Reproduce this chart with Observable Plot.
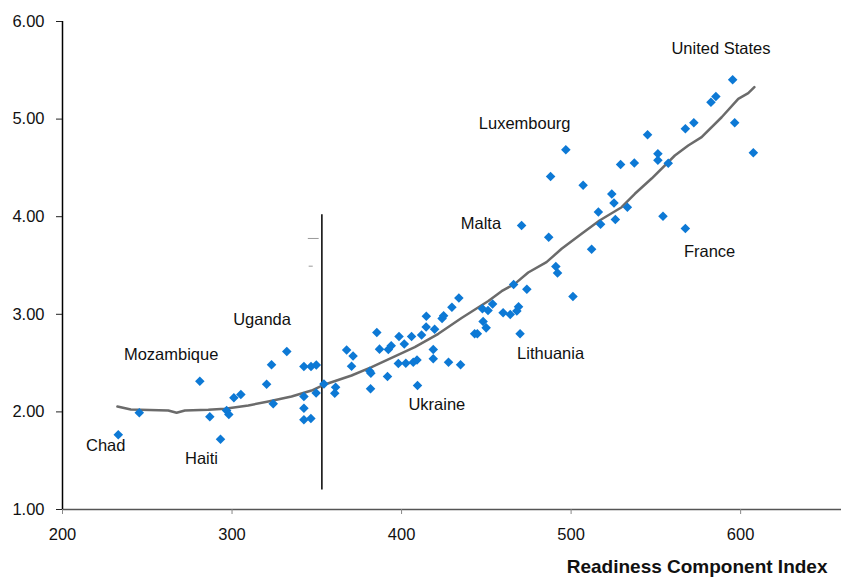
<!DOCTYPE html>
<html>
<head>
<meta charset="utf-8">
<script src="https://cdn.jsdelivr.net/npm/d3@7"></script>
<script src="https://cdn.jsdelivr.net/npm/@observablehq/plot@0.6"></script>
<style>
  html, body { margin: 0; padding: 0; background: #fff; }
  #chart { width: 841px; height: 583px; overflow: hidden; }
</style>
</head>
<body>
<div id="chart"></div>
<script>
// Scatter points: Readiness Component Index (x) vs score (y)
const ptX = [232.9,245.3,281.0,286.9,293.2,296.8,298.1,301.1,305.2,320.4,323.3,324.3,332.3,342.4,346.6,349.7,342.4,342.4,342.4,346.5,349.6,354.2,360.6,361.1,367.6,371.4,370.5,381.3,381.9,381.7,385.4,387.0,391.7,392.2,393.9,398.5,401.6,405.9,398.1,402.5,406.9,409.1,409.4,411.8,414.6,414.5,419.5,418.7,418.7,423.9,424.8,427.7,429.7,433.8,434.8,443.1,444.7,447.7,448.1,449.9,451.0,453.7,459.9,464.1,466.1,468.0,469.0,469.9,473.9,470.8,486.8,491.0,492.0,496.9,487.9,507.1,512.1,501.1,516.1,517.4,524.0,525.3,526.1,533.2,529.2,537.3,545.1,551.2,551.2,557.3,554.2,567.4,567.4,572.4,582.5,585.4,595.3,596.5,607.5];
const ptY = [1.765,1.991,2.315,1.950,1.720,2.014,1.973,2.144,2.178,2.284,2.483,2.083,2.619,2.465,2.465,2.481,2.158,2.038,1.919,1.932,2.194,2.286,2.192,2.253,2.634,2.572,2.468,2.417,2.397,2.237,2.814,2.643,2.363,2.639,2.678,2.773,2.695,2.773,2.496,2.499,2.509,2.531,2.270,2.787,2.981,2.870,2.846,2.639,2.544,2.957,2.985,2.509,3.073,3.167,2.483,2.800,2.800,3.056,2.926,2.861,3.039,3.106,3.015,2.998,3.305,3.034,3.077,2.800,3.256,3.910,3.790,3.490,3.423,4.686,4.412,4.322,3.667,3.182,4.048,3.923,4.233,4.140,3.971,4.096,4.535,4.550,4.840,4.645,4.579,4.548,4.004,3.879,4.901,4.962,5.173,5.232,5.403,4.962,4.655];

// Smoothed trend line
const trendX = [232.4,240.3,262.4,267.3,272.2,286.0,295.8,309.6,321.4,335.1,346.9,354.7,370.5,382.3,407.8,421.7,435.4,451.2,459.0,466.8,474.7,485.5,494.4,506.2,516.8,529.8,537.6,547.5,561.2,569.1,577.0,588.8,598.6,604.5,608.1];
const trendY = [2.055,2.025,2.014,1.991,2.014,2.021,2.032,2.066,2.107,2.158,2.219,2.281,2.373,2.458,2.663,2.800,2.962,3.136,3.237,3.312,3.428,3.534,3.671,3.825,3.961,4.097,4.235,4.391,4.627,4.730,4.815,5.019,5.208,5.266,5.327];

// Country annotations
const labelNames = ["United States","Luxembourg","Malta","France","Lithuania","Ukraine","Uganda","Mozambique","Chad","Haiti"];
const labelX = [588.4,472.6,446.8,581.7,487.9,420.8,317.7,264.1,225.5,282.0];
const labelY = [5.718,4.955,3.930,3.646,2.595,2.071,2.940,2.586,1.656,1.519];

// Vertical reference line
const cutX = [353.0];
const cutY1 = [1.20];
const cutY2 = [4.02];

// Small stray dashes near the reference line
const dashY = [3.777, 3.493];
const dashX1 = [345.0, 345.5];
const dashX2 = [351.4, 347.9];

const xTicks = [200, 300, 400, 500, 600];
const yTicks = [1, 2, 3, 4, 5, 6];
const xTitle = "Readiness Component Index";

const pts = ptX.map((x, i) => ({x, y: ptY[i]}));
const trend = trendX.map((x, i) => ({x, y: trendY[i]}));
const labels = labelNames.map((name, i) => ({name, x: labelX[i], y: labelY[i]}));
const dashes = dashY.map((y, i) => ({y, x1: dashX1[i], x2: dashX2[i]}));
const cut = cutX.map((x, i) => ({x, y1: cutY1[i], y2: cutY2[i]}));

const chart = Plot.plot({
  width: 841,
  height: 583,
  marginLeft: 62,
  marginRight: 0,
  marginTop: 21,
  marginBottom: 74,
  x: {domain: [200, 659.5]},
  y: {domain: [1, 6]},
  style: {fontFamily: "'Liberation Sans', Arial, sans-serif", fontSize: "16.5px", background: "#fff", color: "#111"},
  marks: [
    Plot.ruleY([1], {stroke: "#555", strokeWidth: 1.5}),
    Plot.ruleX([200], {y1: 1, y2: 6, stroke: "#000", strokeWidth: 1.5}),
    Plot.axisY({ticks: yTicks, tickFormat: d3.format(".2f"), tickSize: 6, tickPadding: 12, label: null, stroke: "#222", fontSize: 16.5}),
    Plot.axisX({ticks: xTicks, tickFormat: d3.format("d"), tickSize: 5, tickPadding: 14, label: null, stroke: "#888", fontSize: 16.5}),
    Plot.ruleY(dashes, {y: "y", x1: "x1", x2: "x2", stroke: "#999", strokeWidth: 1}),
    Plot.ruleX(cut, {x: "x", y1: "y1", y2: "y2", stroke: "#000", strokeWidth: 1.5}),
    Plot.line(trend, {x: "x", y: "y", stroke: "#6b6b6b", strokeWidth: 2.5}),
    Plot.dot(pts, {x: "x", y: "y", symbol: "diamond2", r: 4.3, fill: "#0d79d5", stroke: "none"}),
    Plot.text(labels, {x: "x", y: "y", text: "name", fontSize: 16.5, fill: "#111"}),
    Plot.text([xTitle], {frameAnchor: "bottom-right", dx: -14, dy: 63, lineAnchor: "bottom", textAnchor: "end", fontWeight: "bold", fontSize: 19, fill: "#111", style: "letter-spacing:-0.4px"})
  ]
});
document.getElementById("chart").appendChild(chart);
</script>
</body>
</html>
